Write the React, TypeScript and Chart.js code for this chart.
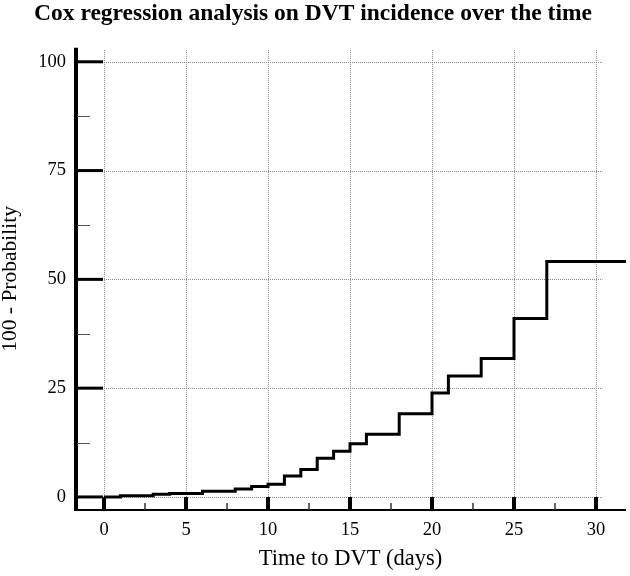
import React, { useEffect, useRef } from "react";
import { Chart, registerables } from "chart.js";

Chart.register(...registerables);

const TITLE = "Cox regression analysis on DVT incidence over the time";
const X_TITLE = "Time to DVT (days)";
const Y_TITLE = "100 - Probability";

// Step curve (time in days, 100 - survival probability)
const TIMES = [0, 1, 3, 4, 6, 8, 9, 10, 11, 12, 13, 14, 15, 16, 18, 20, 21, 23, 25, 27, 31.9];
const VALUES = [0, 0.3, 0.6, 0.8, 1.3, 1.8, 2.4, 2.9, 4.8, 6.3, 8.9, 10.5, 12.2, 14.4, 19.1, 23.9, 27.8, 31.8, 41.0, 54.1, 54.1];

const X_TICKS = [0, 5, 10, 15, 20, 25, 30];
const X_MINOR = [2.5, 7.5, 12.5, 17.5, 22.5, 27.5];
const Y_TICKS = [0, 25, 50, 75, 100];
const Y_MINOR = [12.5, 37.5, 62.5, 87.5];

const FONT = "'Liberation Serif', 'Times New Roman', Times, serif";

const axesPlugin = {
  id: "medcalcAxes",
  beforeDatasetsDraw(chart: any) {
    const { ctx, chartArea, scales } = chart;
    const x = scales.x;
    const y = scales.y;
    ctx.save();
    ctx.strokeStyle = "#8a8a8a";
    ctx.lineWidth = 1;
    ctx.setLineDash([1, 1]);
    for (const v of Y_TICKS) {
      const py = Math.round(y.getPixelForValue(v)) + 0.5;
      ctx.beginPath();
      ctx.moveTo(x.getPixelForValue(0), py);
      ctx.lineTo(x.getPixelForValue(30.4), py);
      ctx.stroke();
    }
    for (const v of X_TICKS) {
      const px = Math.round(x.getPixelForValue(v)) + 0.5;
      ctx.beginPath();
      ctx.moveTo(px, chartArea.top + 2);
      ctx.lineTo(px, y.getPixelForValue(0));
      ctx.stroke();
    }
    ctx.restore();
  },
  afterDatasetsDraw(chart: any) {
    const { ctx, chartArea, scales } = chart;
    const x = scales.x;
    const y = scales.y;
    const left = chartArea.left;
    const bottom = chartArea.bottom;
    ctx.save();
    ctx.setLineDash([]);
    ctx.strokeStyle = "#000";
    // Y axis line
    ctx.lineWidth = 4;
    ctx.beginPath();
    ctx.moveTo(left + 1, chartArea.top);
    ctx.lineTo(left + 1, bottom + 1);
    ctx.stroke();
    // X axis line
    ctx.lineWidth = 2;
    ctx.beginPath();
    ctx.moveTo(left - 1, bottom);
    ctx.lineTo(chartArea.right, bottom);
    ctx.stroke();
    // Y major ticks
    const x0 = x.getPixelForValue(0) - 1;
    ctx.lineWidth = 3;
    for (const v of Y_TICKS) {
      const py = y.getPixelForValue(v);
      ctx.beginPath();
      ctx.moveTo(left + 1, py);
      ctx.lineTo(x0, py);
      ctx.stroke();
    }
    // Y minor ticks
    ctx.lineWidth = 1;
    ctx.strokeStyle = "#555";
    for (const v of Y_MINOR) {
      const py = Math.round(y.getPixelForValue(v)) + 0.5;
      ctx.beginPath();
      ctx.moveTo(left + 2, py);
      ctx.lineTo(left + 15, py);
      ctx.stroke();
    }
    // X major ticks
    ctx.strokeStyle = "#000";
    ctx.lineWidth = 4;
    const y0 = y.getPixelForValue(0);
    for (const v of X_TICKS) {
      const px = x.getPixelForValue(v);
      ctx.beginPath();
      ctx.moveTo(px, y0);
      ctx.lineTo(px, bottom);
      ctx.stroke();
    }
    // X minor ticks
    ctx.lineWidth = 1.5;
    ctx.strokeStyle = "#333";
    for (const v of X_MINOR) {
      const px = x.getPixelForValue(v);
      ctx.beginPath();
      ctx.moveTo(px, bottom - 7);
      ctx.lineTo(px, bottom);
      ctx.stroke();
    }
    ctx.restore();
  },
};

export default function App() {
  const canvasRef = useRef<HTMLCanvasElement | null>(null);

  useEffect(() => {
    if (!canvasRef.current) return;
    const data = TIMES.map((t, i) => ({ x: t, y: VALUES[i] }));
    const chart = new Chart(canvasRef.current, {
      type: "line",
      data: {
        datasets: [
          {
            data,
            borderColor: "#000",
            borderWidth: 3,
            stepped: true,
            pointRadius: 0,
            fill: false,
            borderJoinStyle: "miter",
            borderCapStyle: "butt",
          } as any,
        ],
      },
      options: {
        animation: false,
        responsive: false,
        layout: { padding: { left: 0, right: 4, top: 0, bottom: 0 } },
        plugins: {
          legend: { display: false },
          tooltip: { enabled: false },
          title: {
            display: true,
            text: TITLE,
            color: "#000",
            font: { family: FONT, size: 23.5, weight: "bold", lineHeight: 1.1 },
            padding: { top: 1, bottom: 21 },
          },
        },
        scales: {
          x: {
            type: "linear",
            position: "bottom",
            min: -1.77,
            max: 31.83,
            afterBuildTicks: (s: any) => {
              s.ticks = X_TICKS.map((v) => ({ value: v }));
            },
            afterFit: (s: any) => {
              s.height = 66;
            },
            grid: { display: false, drawTicks: false },
            border: { display: false },
            ticks: {
              color: "#000",
              font: { family: FONT, size: 18.5 },
              padding: 9,
              maxRotation: 0,
              autoSkip: false,
              callback: (v: any) => String(v),
            },
            title: {
              display: true,
              text: X_TITLE,
              color: "#000",
              font: { family: FONT, size: 22.5, lineHeight: 1.2 },
              padding: { top: 0, bottom: 3 },
            },
          },
          y: {
            type: "linear",
            min: -3,
            max: 103.2,
            afterBuildTicks: (s: any) => {
              s.ticks = Y_TICKS.map((v) => ({ value: v }));
            },
            afterFit: (s: any) => {
              s.width = 75;
            },
            grid: { display: false, drawTicks: false },
            border: { display: false },
            ticks: {
              color: "#000",
              font: { family: FONT, size: 18.5 },
              padding: 9,
              autoSkip: false,
              callback: (v: any) => String(v),
            },
            title: {
              display: true,
              text: Y_TITLE,
              color: "#000",
              font: { family: FONT, size: 21.5, lineHeight: 1.0 },
              padding: { top: 0, bottom: 0 },
            },
          },
        },
      },
      plugins: [axesPlugin],
    });
    return () => chart.destroy();
  }, []);

  return (
    <div style={{ position: "absolute", left: 0, top: 0, width: 630, height: 576, background: "#fff" }}>
      <canvas ref={canvasRef} width={630} height={576} style={{ display: "block" }} />
    </div>
  );
}
